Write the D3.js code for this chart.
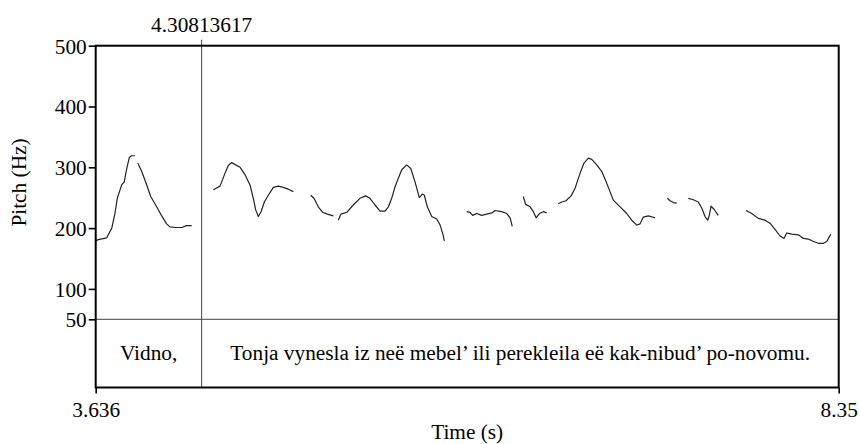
<!DOCTYPE html>
<html>
<head>
<meta charset="utf-8">
<script src="https://cdn.jsdelivr.net/npm/d3@7"></script>
<style>
  html, body { margin: 0; padding: 0; background: #fff; }
  svg { display: block; }
</style>
</head>
<body>
<svg id="chart" width="860" height="444"></svg>
<script>
// ---------- data ----------
const timeRange = [3.636, 8.35];
const pitchRange = [50, 500];
const pitchTicks = [50, 100, 200, 300, 400, 500];
const timeTickLabels = ["3.636", "8.35"];
const boundaryTime = 4.30813617;
const boundaryLabel = "4.30813617";
const intervalLabels = ["Vidno,", "Tonja vynesla iz neë mebel’ ili perekleila eë kak-nibud’ po-novomu."];
const xTitle = "Time (s)";
const yTitle = "Pitch (Hz)";

// pitch contour pieces: [time (s), F0 (Hz)]
const seg1 = [[3.636,179],[3.652,181],[3.706,184],[3.738,200],[3.758,224],[3.773,249],[3.801,271],[3.817,276],[3.833,298],[3.849,316],[3.864,319],[3.885,319]];
const seg2 = [[3.903,307],[3.928,293],[3.960,271],[3.985,252],[4.023,235],[4.055,220],[4.086,207],[4.107,202],[4.139,201],[4.182,201],[4.213,204],[4.245,204]];
const seg3 = [[4.382,263],[4.425,269],[4.456,290],[4.477,303],[4.499,308],[4.524,304],[4.552,300],[4.583,288],[4.615,271],[4.636,249],[4.651,230],[4.668,219],[4.685,227],[4.706,243],[4.731,254],[4.763,267],[4.795,269],[4.826,267],[4.858,264],[4.890,260]];
const seg4 = [[5.000,254],[5.021,249],[5.048,235],[5.076,226],[5.105,223],[5.144,220]];
const seg5 = [[5.175,213],[5.192,223],[5.229,226],[5.270,238],[5.313,249],[5.349,253],[5.376,249],[5.408,238],[5.440,228],[5.472,228],[5.493,235],[5.514,249],[5.535,268],[5.556,282],[5.578,296],[5.609,304],[5.635,298],[5.662,276],[5.689,250],[5.708,256],[5.721,254],[5.740,235],[5.768,219],[5.800,215],[5.821,205],[5.838,191],[5.848,179]];
const seg6 = [[5.990,227],[6.011,226],[6.028,221],[6.053,224],[6.085,221],[6.117,223],[6.149,225],[6.170,229],[6.212,227],[6.244,224],[6.265,217],[6.279,203]];
const seg7 = [[6.349,252],[6.364,239],[6.392,235],[6.413,227],[6.430,217],[6.451,224],[6.476,227],[6.498,225]];
const seg8 = [[6.571,240],[6.593,243],[6.620,245],[6.652,253],[6.677,265],[6.688,274],[6.709,290],[6.734,307],[6.762,315],[6.783,313],[6.815,304],[6.847,293],[6.878,274],[6.920,246],[6.963,235],[7.005,224],[7.037,213],[7.069,205],[7.090,207],[7.110,218],[7.142,220],[7.185,217]];
const seg9 = [[7.263,249],[7.280,245],[7.301,242],[7.322,241]];
const seg10 = [[7.396,249],[7.424,247],[7.459,243],[7.481,233],[7.502,219],[7.519,213],[7.529,221],[7.540,236],[7.559,231],[7.586,221]];
const seg11 = [[7.762,229],[7.798,224],[7.840,216],[7.883,213],[7.914,208],[7.946,198],[7.978,187],[8.003,183],[8.020,192],[8.052,190],[8.094,189],[8.126,183],[8.157,182],[8.189,178],[8.221,175],[8.253,175],[8.274,178],[8.291,186],[8.300,190]];
const pitchSegments = [seg1, seg2, seg3, seg4, seg5, seg6, seg7, seg8, seg9, seg10, seg11];

// ---------- layout ----------
const mLeft = 95.7, mRight = 838.7, mTop = 45.7, mPitchBottom = 319.3, mBottom = 387.5;
const fontSize = 21.3;
const FONT = "Liberation Serif";

const svg = d3.select("#chart").attr("font-family", FONT);
const x = d3.scaleLinear().domain(timeRange).range([mLeft, mRight]);
const y = d3.scaleLinear().domain(pitchRange).range([mPitchBottom, mTop]);

// pitch curves
const line = d3.line().x(d => x(d[0])).y(d => y(d[1]));
svg.append("g").selectAll("path").data(pitchSegments).join("path")
  .attr("d", line)
  .attr("fill", "none")
  .attr("stroke", "#222")
  .attr("stroke-width", 1.2)
  .attr("stroke-linejoin", "round");

// tier separator (at the 50 Hz floor)
svg.append("line")
  .attr("x1", mLeft).attr("x2", mRight)
  .attr("y1", y(pitchRange[0])).attr("y2", y(pitchRange[0]))
  .attr("stroke", "#444").attr("stroke-width", 1);

// boundary line
svg.append("line")
  .attr("x1", x(boundaryTime)).attr("x2", x(boundaryTime))
  .attr("y1", mTop - 6).attr("y2", mBottom)
  .attr("stroke", "#444").attr("stroke-width", 1);
svg.append("text")
  .attr("x", x(boundaryTime)).attr("y", 32)
  .attr("text-anchor", "middle")
  .attr("font-family", FONT)
  .attr("font-size", fontSize)
  .attr("fill", "#000")
  .text(boundaryLabel);

// interval labels
const edges = [timeRange[0], boundaryTime, timeRange[1]];
svg.append("g").selectAll("text").data(intervalLabels).join("text")
  .attr("x", (d, i) => (x(edges[i]) + x(edges[i + 1])) / 2)
  .attr("y", 360)
  .attr("text-anchor", "middle")
  .attr("font-family", FONT)
  .attr("font-size", fontSize)
  .attr("fill", "#000")
  .text(d => d);

// frame
svg.append("rect")
  .attr("x", mLeft).attr("y", mTop)
  .attr("width", mRight - mLeft).attr("height", mBottom - mTop)
  .attr("fill", "none").attr("stroke", "#000").attr("stroke-width", 2);

// y axis
const yAxis = svg.append("g")
  .attr("transform", `translate(${mLeft},0)`)
  .call(d3.axisLeft(y).tickValues(pitchTicks).tickFormat(d3.format("d")).tickSize(7).tickPadding(2));
yAxis.attr("font-family", FONT).attr("font-size", fontSize);
yAxis.select(".domain").remove();
yAxis.selectAll(".tick line").attr("stroke", "#000").attr("stroke-width", 1.6);
yAxis.selectAll(".tick text")
  .attr("font-family", FONT)
  .attr("font-size", fontSize)
  .attr("fill", "#000")
  .attr("dy", "0.35em");

// x axis (only the two ends)
const xAxis = svg.append("g")
  .attr("transform", `translate(0,${mBottom})`)
  .call(d3.axisBottom(x).tickValues(timeRange).tickFormat((d, i) => timeTickLabels[i]).tickSize(6).tickPadding(8));
xAxis.attr("font-family", FONT).attr("font-size", fontSize);
xAxis.select(".domain").remove();
xAxis.selectAll(".tick line").attr("stroke", "#000").attr("stroke-width", 1.6);
xAxis.selectAll(".tick text")
  .attr("font-family", FONT)
  .attr("font-size", fontSize)
  .attr("fill", "#000")
  .attr("dy", "0.71em");

// titles
svg.append("text")
  .attr("x", (mLeft + mRight) / 2).attr("y", 439)
  .attr("text-anchor", "middle")
  .attr("font-family", FONT)
  .attr("font-size", fontSize)
  .attr("fill", "#000")
  .text(xTitle);
svg.append("text")
  .attr("transform", `translate(26,${(mTop + mPitchBottom) / 2}) rotate(-90)`)
  .attr("text-anchor", "middle")
  .attr("font-family", FONT)
  .attr("font-size", fontSize)
  .attr("fill", "#000")
  .text(yTitle);
</script>
</body>
</html>
